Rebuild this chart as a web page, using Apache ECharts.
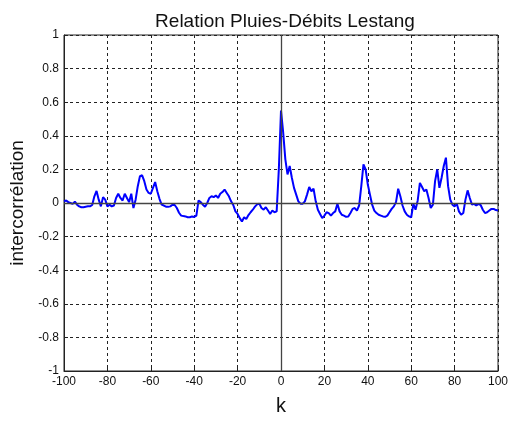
<!DOCTYPE html>
<html>
<head>
<meta charset="utf-8">
<script src="https://cdn.jsdelivr.net/npm/echarts@6/dist/echarts.min.js"></script>
<style>
html,body{margin:0;padding:0;background:#fff;}
#chart{width:515px;height:421px;}
</style>
</head>
<body>
<div id="chart"></div>
<script>
var lags = [];
for (var i = -100; i <= 100; i++) lags.push(i);

var intercorr = [
  0.01, 0.015, 0.005, 0.0, -0.005, 0.008, -0.01, -0.02, -0.025, -0.025,
  -0.022, -0.02, -0.02, -0.012, 0.04, 0.072, 0.02, -0.02, 0.035, 0.02,
  -0.02, -0.01, -0.02, -0.015, 0.03, 0.055, 0.03, 0.015, 0.055, 0.03,
  0.005, 0.055, -0.03, 0.02, 0.1, 0.16, 0.165, 0.13, 0.08, 0.06,
  0.055, 0.09, 0.125, 0.07, 0.025, -0.01, -0.015, -0.022, -0.023, -0.02,
  -0.01, -0.012, -0.03, -0.058, -0.075, -0.078, -0.08, -0.085, -0.085, -0.08,
  -0.083, -0.075, 0.015, 0.005, -0.01, -0.022, 0.0, 0.03, 0.04, 0.035,
  0.045, 0.03, 0.055, 0.065, 0.08, 0.06, 0.04, 0.01, -0.012, -0.05,
  -0.065, -0.09, -0.11, -0.085, -0.095, -0.072, -0.055, -0.04, -0.022, -0.008,
  -0.004, -0.03, -0.04, -0.025, -0.045, -0.065, -0.045, -0.055, -0.05, 0.2,
  0.55, 0.42, 0.26, 0.17, 0.22, 0.15, 0.09, 0.05, 0.01, -0.004,
  -0.004, 0.01, 0.05, 0.095, 0.07, 0.085, 0.01, -0.04, -0.065, -0.09,
  -0.075, -0.055, -0.06, -0.075, -0.06, -0.05, -0.005, -0.05, -0.07, -0.075,
  -0.082, -0.08, -0.06, -0.035, -0.03, -0.045, -0.015, 0.1, 0.23, 0.2,
  0.11, 0.05, -0.01, -0.045, -0.06, -0.07, -0.075, -0.08, -0.082, -0.075,
  -0.055, -0.035, -0.02, 0.005, 0.085, 0.04, -0.015, -0.05, -0.07, -0.08,
  -0.085, -0.005, -0.04, 0.015, 0.12, 0.095, 0.07, 0.08, 0.03, -0.03,
  -0.01, 0.13, 0.2, 0.09, 0.15, 0.22, 0.27, 0.1, 0.02, -0.01,
  -0.02, -0.005, -0.05, -0.07, -0.06, 0.02, 0.075, 0.03, -0.01, -0.005,
  -0.015, -0.005, -0.012, -0.04, -0.06, -0.055, -0.045, -0.035, -0.035, -0.042,
  -0.045
];

var titleText = 'Relation Pluies-Débits Lestang';
var xName = 'k';
var yName = 'intercorrélation';

var pts = lags.map(function (k, i) { return [k, intercorr[i]]; });

var chart = echarts.init(document.getElementById('chart'));
var font = 'Liberation Sans, Arial, sans-serif';
chart.setOption({
  animation: false,
  backgroundColor: '#fff',
  title: {
    text: titleText,
    left: 280, top: 7, textAlign: 'center',
    textStyle: {fontFamily: font, fontSize: 19, fontWeight: 'normal', color: '#111'}
  },
  grid: {
    left: 64, right: 17, top: 35, bottom: 44,
    show: true, borderColor: '#222', borderWidth: 1, backgroundColor: '#fff'
  },
  xAxis: {
    type: 'value', min: -100, max: 100, interval: 20,
    name: xName, nameLocation: 'middle', nameGap: 25,
    nameTextStyle: {fontFamily: font, fontSize: 20, color: '#111'},
    axisLine: {show: true, onZero: false, lineStyle: {color: '#222', width: 1}},
    axisTick: {show: true, inside: true, length: 4, lineStyle: {color: '#222'}},
    axisLabel: {fontFamily: font, fontSize: 12, color: '#111', margin: 5},
    splitLine: {show: true, lineStyle: {color: '#222', type: [3, 3], width: 1}}
  },
  yAxis: {
    type: 'value', min: -1, max: 1, interval: 0.2,
    name: yName, nameLocation: 'middle', nameGap: 33,
    nameTextStyle: {fontFamily: font, fontSize: 19, color: '#111'},
    axisLine: {show: true, onZero: false, lineStyle: {color: '#222', width: 1}},
    axisTick: {show: true, inside: true, length: 4, lineStyle: {color: '#222'}},
    axisLabel: {fontFamily: font, fontSize: 12, color: '#111', margin: 5,
      formatter: function (v) { return String(+v.toFixed(1)); }},
    splitLine: {show: true, lineStyle: {color: '#222', type: [3, 3], width: 1}}
  },
  series: [{
    type: 'line',
    data: pts,
    symbol: 'none',
    lineStyle: {color: '#0000ff', width: 2},
    z: 3,
    markLine: {
      silent: true, symbol: 'none', label: {show: false},
      lineStyle: {color: '#444', type: 'solid', width: 1.3},
      data: [{yAxis: 0}, {xAxis: 0}]
    }
  }]
});
</script>
</body>
</html>
